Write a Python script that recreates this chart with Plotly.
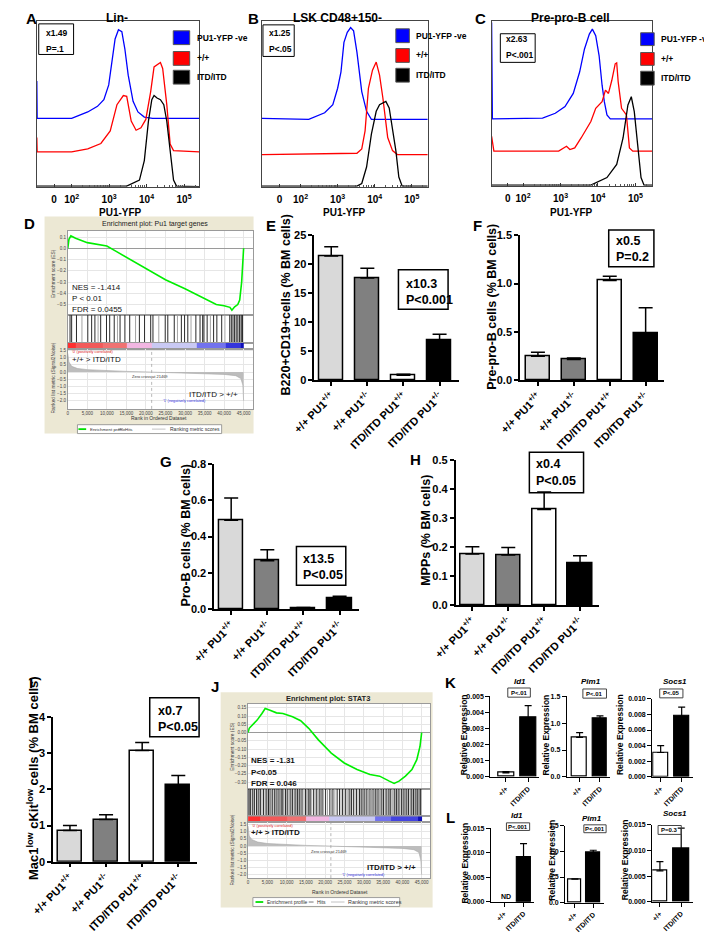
import math
import plotly.graph_objects as go

W, H = 712, 940
OFF = 8  # the page body keeps its default 8px margin
FONT = "Liberation Sans, Arial, sans-serif"

# ---------------- data ----------------
# A-C  PU1-YFP flow histograms (x = log10 decade position, y = stacked relative count)
a_blue_x = [1.07, 1.08, 2.0, 2.43, 2.69, 2.86, 2.99, 3.08, 3.16, 3.25, 3.34, 3.42, 3.51, 3.64, 3.77, 3.94, 4.16, 5.41]
a_blue_y = [63.8, 41.2, 41.2, 45.1, 48.5, 52.5, 61.4, 75.2, 89.1, 94.7, 93.5, 83.2, 67.3, 51.5, 45.1, 42.0, 41.2, 41.2]
a_red_x = [1.07, 1.08, 2.0, 2.43, 2.78, 3.03, 3.21, 3.38, 3.47, 3.59, 3.72, 3.85, 3.98, 4.11, 4.2, 4.28, 4.37, 4.43, 4.54, 4.63, 4.72, 5.41]
a_red_y = [29.7, 21.0, 21.0, 22.8, 26.1, 33.7, 49.5, 55.0, 54.5, 39.6, 34.1, 35.6, 40.6, 57.4, 72.3, 73.3, 74.9, 71.3, 49.5, 25.7, 21.8, 21.0]
a_blk_x = [1.07, 3.47, 3.81, 3.94, 4.05, 4.14, 4.2, 4.28, 4.37, 4.46, 4.54, 4.63, 4.72, 4.8, 5.41]
a_blk_y = [0.4, 0.4, 4.0, 15.8, 39.6, 52.5, 55.0, 53.5, 52.5, 49.5, 39.6, 19.8, 4.0, 0.4, 0.0]

b_blue_x = [0.96, 2.22, 2.65, 2.87, 3.0, 3.09, 3.17, 3.26, 3.35, 3.43, 3.52, 3.65, 3.78, 3.91, 5.43]
b_blue_y = [41.2, 40.6, 44.6, 49.5, 59.4, 69.3, 87.1, 93.1, 96.0, 94.0, 81.2, 57.4, 45.5, 40.6, 40.6]
b_red_x = [0.96, 3.52, 3.65, 3.74, 3.83, 3.94, 4.04, 4.13, 4.22, 4.35, 4.48, 4.61, 5.43]
b_red_y = [19.4, 20.2, 22.8, 33.7, 59.4, 70.3, 75.2, 67.3, 53.5, 29.7, 21.8, 19.4, 19.4]
b_blk_x = [0.96, 3.52, 3.65, 3.78, 3.91, 4.04, 4.13, 4.22, 4.3, 4.39, 4.48, 4.57, 4.65, 4.74, 5.43]
b_blk_y = [0.4, 0.4, 2.0, 11.9, 31.7, 45.5, 49.5, 50.5, 51.5, 47.5, 35.6, 21.8, 5.9, 0.4, 0.4]

c_blue_x = [1.16, 1.18, 2.52, 2.86, 3.12, 3.34, 3.51, 3.64, 3.77, 3.85, 3.94, 4.03, 4.11, 4.17, 4.24, 4.33, 5.45]
c_blue_y = [99, 40.6, 41, 44, 48, 56, 69, 83, 92, 95, 91, 79, 61, 51, 43, 40.6, 40.6]
c_red_x = [1.16, 1.22, 2.95, 3.08, 3.16, 3.25, 3.38, 3.55, 3.68, 3.81, 3.94, 4.03, 4.11, 4.2, 4.28, 4.37, 4.46, 4.5, 4.54, 4.63, 4.76, 4.84, 4.93, 5.45]
c_red_y = [30, 21, 21, 23, 24, 22, 23, 29, 34, 39, 47, 49, 51, 58, 56, 64, 74, 74.6, 63, 47, 43, 23, 21, 21]
c_blk_x = [1.16, 3.81, 4.24, 4.5, 4.67, 4.8, 4.89, 4.97, 5.06, 5.15, 5.23, 5.45]
c_blk_y = [0.4, 0.4, 5, 13, 29, 49, 54, 45, 25, 5, 0.4, 0.4]

hist_legend = ["PU1-YFP -ve", "+/+", "ITD/ITD"]
hist_colors = ["#0000ff", "#ff0000", "#000000"]

# D / J  GSEA enrichment plots
d_es_rank = [0, 300, 800, 2000, 5000, 8000, 10000, 12500, 15000, 20000, 25000, 30000, 35000, 38000, 40000, 41500, 42000, 42700, 43500, 44000, 44500, 44800, 45000]
d_es = [0.0, 0.08, 0.11, 0.09, 0.05, 0.035, 0.02, -0.03, -0.08, -0.175, -0.28, -0.36, -0.45, -0.5, -0.51, -0.525, -0.55, -0.52, -0.5, -0.46, -0.3, -0.15, 0.0]
d_hits_black = [580, 990, 2230, 5120, 6110, 6940, 8420, 9910, 10730, 11890, 13380, 14620, 15850, 18330, 19650, 21220, 21800, 24940, 25600, 27250, 29070, 29890, 30720, 32780, 33850, 34520, 34850, 35670, 37320, 38150, 39390, 41450, 41860, 42280, 42690, 43100, 43520, 43930, 44340, 44590, 44750]
d_hits_gray = [3630, 7760, 12720, 17340, 23290, 28070, 31540, 36500, 40210]
d_cb_edges = [0, 2000, 9000, 15000, 21500, 33000, 40500, 44300, 45000]
d_cb_levels = [1.0, 0.9, 0.82, 0.62, 0.42, 0.25, 0.12, 0.0]
d_met_rank = [0, 300, 1000, 2500, 5000, 10000, 15000, 21469, 28000, 35000, 40000, 43000, 44300, 44800, 45000]
d_met = [1.3, 0.7, 0.4, 0.25, 0.17, 0.1, 0.05, 0.0, -0.05, -0.1, -0.16, -0.25, -0.45, -0.9, -2.0]

j_es_rank = [0, 300, 677, 2350, 3600, 4440, 5690, 7370, 9030, 11540, 13640, 15720, 18230, 21570, 24930, 28260, 31600, 34110, 36620, 37870, 39130, 40800, 42480, 43740, 44570, 45000]
j_es = [0.0, 0.026, 0.036, 0.076, 0.116, 0.146, 0.136, 0.12, 0.116, 0.096, 0.072, 0.026, -0.044, -0.124, -0.184, -0.224, -0.254, -0.264, -0.294, -0.308, -0.294, -0.264, -0.224, -0.164, -0.084, 0.0]
j_hits_black = [200, 600, 1100, 1700, 2200, 2800, 3200, 4000, 4700, 5300, 5700, 6400, 6900, 7500, 8000, 8600, 9000, 9700, 10300, 10900, 11500, 12200, 12800, 13400, 14000, 14900, 15600, 16100, 17000, 17800, 18600, 19200, 20100, 21200, 22000, 23100, 23700, 24500, 25300, 26200, 26800, 27300, 28100, 28900, 29500, 30100, 30800, 31600, 32400, 33100, 33700, 34500, 35100, 35800, 36500, 37000, 37900, 38500, 39100, 39800, 40400, 41000, 41600, 42300, 42900, 43500, 44000, 44600, 44800]
j_hits_gray = [400, 1400, 2500, 3600, 4400, 5000, 6100, 7200, 8300, 9300, 10000, 11200, 11900, 12500, 13100, 13700, 14500, 15200, 15900, 16500, 17400, 18200, 18900, 19600, 20600, 21600, 22500, 24100, 24900, 25700, 26500, 27700, 28500, 29200, 29800, 30500, 31200, 32000, 32800, 33400, 34100, 34800, 35500, 36200, 36800, 37500, 38200, 38800, 39400, 40100, 40700, 41300, 42000, 42600, 43200, 43800, 44300]
j_cb_edges = [0, 3000, 10000, 15000, 21000, 33000, 37000, 44000, 45000]
j_cb_levels = [1.0, 0.9, 0.82, 0.62, 0.42, 0.25, 0.15, 0.0]
j_met_rank = [0, 300, 1000, 2500, 5000, 10000, 15000, 21469, 28000, 35000, 40000, 43000, 44300, 44800, 45000]
j_met = [1.4, 0.7, 0.45, 0.28, 0.18, 0.1, 0.05, 0.0, -0.05, -0.1, -0.16, -0.25, -0.45, -1.0, -2.0]
zero_cross = 21469
rank_ticks = [0, 5000, 10000, 15000, 20000, 25000, 30000, 35000, 40000, 45000]

# E-I  bar charts (mean, SEM)
genotypes = ["+/+ PU1<sup>+/+</sup>", "+/+ PU1<sup>+/-</sup>",
             "ITD/ITD PU1<sup>+/+</sup>", "ITD/ITD PU1<sup>+/-</sup>"]
geno_colors = ["#d9d9d9", "#808080", "#ffffff", "#000000"]
e_vals = [21.4, 17.6, 0.8, 6.8]
e_sem = [1.6, 1.7, 0.17, 1.1]
f_vals = [0.248, 0.214, 1.03, 0.49]
f_sem = [0.042, 0.016, 0.045, 0.26]
g_vals = [0.49, 0.267, 0.007, 0.062]
g_sem = [0.123, 0.06, 0.002, 0.008]
h_vals = [0.176, 0.173, 0.33, 0.145]
h_sem = [0.025, 0.026, 0.06, 0.025]
i_vals = [0.864, 1.164, 3.07, 2.12]
i_sem = [0.136, 0.136, 0.22, 0.26]

# K / L  qPCR
qpcr_groups = ["+/+", "ITD/ITD"]
qpcr_colors = ["#ffffff", "#000000"]
k_id1 = [0.00025, 0.00369]
k_id1_sem = [0.00008, 0.00074]
k_pim1 = [0.738, 1.088]
k_pim1_sem = [0.086, 0.049]
k_socs1 = [0.00312, 0.00776]
k_socs1_sem = [0.00088, 0.00118]
l_id1 = [None, 0.0091]
l_id1_sem = [0, 0.00275]
l_pim1 = [0.46, 0.97]
l_pim1_sem = [0.004, 0.05]
l_socs1 = [0.006, 0.01034]
l_socs1_sem = [0.0018, 0.00396]

# ---------------- helpers ----------------
fig = go.Figure()
layout = {}
shapes = []
annotations = []
count = [0]


def PX(x):
    return (x - OFF) / W


def PY(y):
    return 1 - (y - OFF) / H


def new_axes(xd, yd, xa, ya):
    count[0] += 1
    s = "" if count[0] == 1 else str(count[0])
    layout["xaxis" + s] = dict(domain=[PX(xd[0]), PX(xd[1])], anchor="y" + s, **xa)
    layout["yaxis" + s] = dict(domain=[PY(yd[1]), PY(yd[0])], anchor="x" + s, **ya)
    return "x" + s, "y" + s


def ann(x, y, text, size, bold=False, color="black", xanchor="center", angle=0,
        italic=False, **kw):
    annotations.append(dict(
        x=PX(x), y=PY(y), xref="paper", yref="paper", text=text, showarrow=False,
        xanchor=xanchor, yanchor="middle", textangle=angle,
        font=dict(family=FONT, size=size, color=color,
                  weight="bold" if bold else "normal",
                  style="italic" if italic else "normal"), **kw))


def rect(x0, y0, x1, y1, line="black", fill="rgba(0,0,0,0)", lw=1, layer="above"):
    shapes.append(dict(type="rect", xref="paper", yref="paper", x0=PX(x0), x1=PX(x1),
                       y0=PY(y1), y1=PY(y0), line=dict(color=line, width=lw),
                       fillcolor=fill, layer=layer))


def hline(x0, x1, y, color, lw):
    shapes.append(dict(type="line", xref="paper", yref="paper", x0=PX(x0), x1=PX(x1),
                       y0=PY(y), y1=PY(y), line=dict(color=color, width=lw)))


def letter(x, y, t):
    ann(x, y, t, 15, bold=True)


# ---------------- A-C histograms ----------------
minor_vals = [d + math.log10(k) for d in range(2, 6) for k in range(2, 10)]


def hist_panel(xd, yd, rng, zero_pos, curves, title, title_x, xt_x, leg, inset):
    xa, ya = new_axes(
        xd, yd,
        dict(range=rng, tickvals=[zero_pos, 2, 3, 4, 5],
             ticktext=["0", "10<sup>2</sup>", "10<sup>3</sup>", "10<sup>4</sup>", "10<sup>5</sup>"],
             ticks="inside", ticklen=3, tickcolor="#333", showline=True, mirror=True,
             linecolor="#444", linewidth=1.2, showgrid=False, zeroline=False,
             ticklabelstandoff=3,
             tickfont=dict(family=FONT, size=10, weight="bold"),
             minor=dict(tickvals=minor_vals, ticks="inside", ticklen=2, tickcolor="#555")),
        dict(range=[0, 100], showline=True, mirror=True, linecolor="#444", linewidth=1.2,
             showticklabels=False, showgrid=False, zeroline=False, ticks=""))
    for (cx, cy), col in zip(curves, hist_colors):
        fig.add_trace(go.Scatter(x=cx, y=cy, mode="lines", line=dict(color=col, width=1.3),
                                 xaxis=xa, yaxis=ya, hoverinfo="skip"))
    ann(title_x, 12, title, 12, bold=True)
    ann(xt_x, 209, "PU1-YFP", 10, bold=True)
    lx0, lx1, lys = leg
    for name, col, (ly0, ly1) in zip(hist_legend, hist_colors, lys):
        rect(lx0, ly0, lx1, ly1, line="#555", fill=col, lw=1)
        ann(lx1 + 5, (ly0 + ly1) / 2, name, 8.5, bold=True, xanchor="left")
    (bx0, by0, bx1, by1), tx, lines = inset
    rect(bx0, by0, bx1, by1, line="black", lw=1)
    for (txt, ty) in lines:
        ann(tx, ty, txt, 8.5, bold=True, xanchor="left")


hist_panel((14, 182), (15, 183), [1.07, 5.41], 1.53,
           [(a_blue_x, a_blue_y), (a_red_x, a_red_y), (a_blk_x, a_blk_y)],
           "Lin-", 97, 100,
           (155, 172, [(25, 39), (46, 60), (65, 79)]),
           ((16, 18, 52, 49), 21.5, [("x1.49", 27.5), ("P=.1", 43)]))
hist_panel((246.7, 418), (15, 183), [0.96, 5.43], 1.43,
           [(b_blue_x, b_blue_y), (b_red_x, b_red_y), (b_blk_x, b_blk_y)],
           "LSK CD48+150-", 325, 332,
           (385, 399, [(23, 37), (43, 57), (63, 77)]),
           ((247.7, 19, 280, 51), 251.5, [("x1.25", 27.5), ("P&lt;.05", 43)]))
hist_panel((484, 650), (15, 182), [1.16, 5.45], 1.59,
           [(c_blue_x, c_blue_y), (c_red_x, c_red_y), (c_blk_x, c_blk_y)],
           "Pre-pro-B cell", 565, 567,
           (638, 652, [(27, 40), (47, 60), (66, 80)]),
           ((493, 28, 529, 57), 496.5, [("x2.63", 33.5), ("P&lt;.001", 50)]))
letter(9, 13, "A")
letter(238, 13, "B")
letter(472, 13, "C")

# ---------------- D / J GSEA ----------------
cb_scale = [[0, "#1010b8"], [0.12, "#3535dc"], [0.25, "#7272ee"], [0.42, "#c9c9f3"],
            [0.62, "#f2b6e2"], [0.82, "#f07272"], [0.9, "#f25a5a"], [1.0, "#ff3030"]]
small = dict(family=FONT, size=4.5, color="#444")


def vlines(ranks):
    xs, ys = [], []
    for r in ranks:
        xs += [r, r, None]
        ys += [0, 1, None]
    return xs, ys


def gsea(xd, ys, xmax, es_rank, es, es_range, es_ticks, es_fmt, hk, hg,
         cb_edges, cb_levels, met_rank, met, met_range):
    base = dict(range=[0, xmax], showline=True, mirror=True, linecolor="#9a9a9a",
                linewidth=0.8, zeroline=False, ticks="", showticklabels=False)
    grid = dict(showgrid=True, gridcolor="#e6e6e6", gridwidth=0.6)
    # enrichment score
    xa, ya = new_axes(xd, (ys[0], ys[1]), dict(base, tickvals=rank_ticks, **grid),
                      dict(range=es_range, tickvals=es_ticks, tickformat=es_fmt, tickfont=small,
                           showline=True, mirror=True, linecolor="#9a9a9a", linewidth=0.8,
                           ticks="", zeroline=True, zerolinecolor="#9a9a9a", zerolinewidth=0.8,
                           **grid))
    fig.add_trace(go.Scatter(x=es_rank, y=es, mode="lines", line=dict(color="#00ee00", width=1.6),
                             xaxis=xa, yaxis=ya, hoverinfo="skip"))
    # hits
    xa, ya = new_axes(xd, (ys[1], ys[2]), dict(base, showgrid=False),
                      dict(range=[0, 1], showline=True, mirror=True, linecolor="#9a9a9a",
                           linewidth=0.8, showticklabels=False, showgrid=False, zeroline=False))
    gx, gy = vlines(hg)
    fig.add_trace(go.Scatter(x=gx, y=gy, mode="lines", line=dict(color="#9a9a9a", width=0.9),
                             xaxis=xa, yaxis=ya, hoverinfo="skip"))
    bx, by = vlines(hk)
    fig.add_trace(go.Scatter(x=bx, y=by, mode="lines", line=dict(color="#111", width=0.9),
                             xaxis=xa, yaxis=ya, hoverinfo="skip"))
    # colour bar
    xa, ya = new_axes(xd, (ys[2], ys[3]), dict(base, showgrid=False),
                      dict(range=[0, 1], showline=True, mirror=True, linecolor="#9a9a9a",
                           linewidth=0.8, showticklabels=False, showgrid=False, zeroline=False))
    fig.add_trace(go.Heatmap(x=cb_edges, y=[0, 1], z=[cb_levels], colorscale=cb_scale,
                             zmin=0, zmax=1, showscale=False, xaxis=xa, yaxis=ya,
                             hoverinfo="skip"))
    # ranked metric
    xa, ya = new_axes(xd, (ys[3], ys[4]),
                      dict(base, showticklabels=True, tickvals=rank_ticks, tickformat=",d",
                           tickfont=small, ticklabelstandoff=0, **grid),
                      dict(range=met_range, tickvals=[1.5, 1.0, 0.5, 0.0, -0.5, -1.0, -1.5, -2.0],
                           tickformat=".1f", tickfont=small, showline=True, mirror=True,
                           linecolor="#9a9a9a", linewidth=0.8, ticks="", zeroline=False, **grid))
    fig.add_trace(go.Scatter(x=met_rank, y=met, mode="lines", fill="tozeroy",
                             fillcolor="#bdbdbd", line=dict(color="#a8a8a8", width=0.6),
                             xaxis=xa, yaxis=ya, hoverinfo="skip"))
    shapes.append(dict(type="line", xref=xa, yref=ya + " domain", x0=zero_cross, x1=zero_cross,
                       y0=0, y1=1, line=dict(color="#999", width=0.7, dash="dot")))


def gsea_legend(box, green, prof_x, dash, hits_x, gray, rank_x, y, s1, s2):
    rect(box[0], box[1], box[2], box[3], line="#888", fill="#ffffff", lw=0.8)
    hline(green[0], green[1], y, "#00e000", 1.8)
    ann(prof_x, y, "Enrichment profile", s1, color="#333", xanchor="left")
    hline(dash[0], dash[1], y, "#666", 0.9)
    ann(hits_x, y, "Hits", s1, color="#333", xanchor="left")
    hline(gray[0], gray[1], y, "#d4d4d4", 1.4)
    ann(rank_x, y, "Ranking metric scores", s2, color="#333", xanchor="left")


# D
rect(22, 213, 238, 433, line="#e7e3cc", fill="#ece8d4", lw=0, layer="below")
rect(45, 227, 237.5, 408.5, line="#ffffff", fill="#ffffff", lw=0, layer="below")
gsea((46, 237), [228, 313, 341, 347, 408], 47300, d_es_rank, d_es, [-0.594, 0.152],
     [0.1, 0.0, -0.1, -0.2, -0.3, -0.4, -0.5], ".1f", d_hits_black, d_hits_gray,
     d_cb_edges, d_cb_levels, d_met_rank, d_met, [-2.56, 1.63])
ann(136, 221, "Enrichment plot: Pu1 target genes", 7, color="#222")
ann(31, 271, "Enrichment score (ES)", 4.8, color="#444", angle=-90)
ann(31, 377, "Ranked list metric (Signal2Noise)", 4.8, color="#444", angle=-90)
ann(48, 285, "NES = -1.414", 8, xanchor="left", color="#111")
ann(48, 296, "P &lt; 0.01", 8, xanchor="left", color="#111")
ann(48, 307, "FDR = 0.0455", 8, xanchor="left", color="#111")
ann(48, 350.5, "'0' (positively correlated)", 3.8, color="#e02020", xanchor="left")
ann(48, 357.5, "+/+ &gt; ITD/ITD", 8, xanchor="left", color="#111")
ann(131, 375.5, "Zero cross at 21469", 4, color="#333")
ann(224, 393, "ITD/ITD &gt; +/+", 8, xanchor="right", color="#111")
ann(167, 400.5, "'1' (negatively correlated)", 3.8, color="#3030e0")
ann(140, 417.5, "Rank in Ordered Dataset", 5, color="#333")
gsea_legend((56, 424, 205, 433), (57, 65), 66.5, (98, 102), 103.5, (133, 147), 150, 428.5,
            4.4, 5.0)
letter(6, 220, "D")

# J
rect(204, 695, 423, 913, line="#e7e3cc", fill="#ece8d4", lw=0, layer="below")
rect(231.5, 706, 421, 883.5, line="#ffffff", fill="#ffffff", lw=0, layer="below")
gsea((232.3, 420.7), [706.7, 792.7, 820.7, 826.7, 883.3], 47260, j_es_rank, j_es,
     [-0.34, 0.175], [0.15, 0.10, 0.05, 0.0, -0.05, -0.10, -0.15, -0.20, -0.25, -0.30], ".2f",
     j_hits_black, j_hits_gray, j_cb_edges, j_cb_levels, j_met_rank, j_met, [-2.23, 1.66])
ann(315, 701, "Enrichment plot: STAT3", 7.5, bold=True, color="#222")
ann(216, 750, "Enrichment score (ES)", 4.8, color="#444", angle=-90)
ann(216, 855, "Ranked list metric (Signal2Noise)", 4.8, color="#444", angle=-90)
ann(233, 764, "NES = -1.31", 8, bold=True, xanchor="left", color="#111")
ann(233, 776, "P&lt;0.05", 8, bold=True, xanchor="left", color="#111")
ann(233, 787, "FDR = 0.046", 8, bold=True, xanchor="left", color="#111")
ann(234, 830, "'0' (positively correlated)", 3.8, color="#e02020", xanchor="left")
ann(233, 837, "+/+ &gt; ITD/ITD", 8, bold=True, xanchor="left", color="#111")
ann(316, 856, "Zero cross at 21469", 4, color="#333")
ann(408, 872.5, "ITD/ITD &gt; +/+", 8, bold=True, xanchor="right", color="#111")
ann(352, 880, "'1' (negatively correlated)", 3.8, color="#3030e0")
ann(327, 897, "Rank in Ordered Dataset", 5, color="#333")
gsea_legend((237.3, 903, 389, 912), (240, 248), 249.5, (295, 300), 301.5, (318, 332), 334,
            907.5, 5.0, 5.4)
letter(198, 689, "J")


# ---------------- bar charts ----------------
def bar_panel(xd, yd, cats, vals, sem, colors, yrange, dtick, fmt, xrange, tsize, width,
              lw=1.5, cap=7):
    xa, ya = new_axes(
        xd, yd,
        dict(type="category", categoryorder="array", categoryarray=cats, range=xrange,
             showline=True, linecolor="black", linewidth=lw, ticks="outside", ticklen=4,
             tickwidth=lw, tickcolor="black", tickangle=-45, showgrid=False, zeroline=False,
             tickfont=dict(family=FONT, size=tsize, weight="bold", color="black")),
        dict(range=yrange, tick0=0, dtick=dtick, tickformat=fmt, showline=True,
             linecolor="black", linewidth=lw, ticks="outside", ticklen=4, tickwidth=lw,
             tickcolor="black", showgrid=False, zeroline=False,
             tickfont=dict(family=FONT, size=tsize, weight="bold", color="black")))
    fig.add_trace(go.Bar(x=cats, y=vals, width=width,
                         marker=dict(color=colors, line=dict(color="black", width=lw)),
                         error_y=dict(type="data", array=sem, arrayminus=[0] * len(sem),
                                      symmetric=False, color="black", thickness=lw, width=cap),
                         xaxis=xa, yaxis=ya, hoverinfo="skip"))


def stat_box(x0, y0, x1, y1, tx, lines, size=12.5):
    rect(x0, y0, x1, y1, line="black", lw=1.5)
    for txt, ty in lines:
        ann(tx, ty, txt, size, bold=True, xanchor="left")


bar_panel((300.7, 450), (232, 378.7), genotypes, e_vals, e_sem, geno_colors, [0, 25], 5, "d",
          [-0.47, 3.53], 11, 0.67)
ann(271.7, 303, "B220+CD19+cells (% BM cells)", 12.5, bold=True, angle=-90)
stat_box(387.7, 267, 439, 307, 393, [("x10.3", 281), ("P&lt;0.001", 297.5)])
letter(256, 222, "E")

bar_panel((513.3, 661.7), (232, 379), genotypes, f_vals, f_sem, geno_colors, [0, 1.5], 0.5,
          ".1f", [-0.5, 3.5], 11, 0.67)
ann(485, 305, "Pre-pro-B cells (% BM cells)", 12.5, bold=True, angle=-90)
stat_box(605, 226.7, 651.7, 264, 610.5, [("x0.5", 238), ("P=0.2", 254)])
letter(469, 222, "F")

bar_panel((197.3, 346.7), (464, 610.7), genotypes, g_vals, g_sem, geno_colors, [0, 0.8], 0.2,
          ".1f", [-0.47, 3.53], 11, 0.67)
ann(168.3, 536, "Pro-B cells (% BM cells)", 12.5, bold=True, angle=-90)
stat_box(282.3, 547.3, 333.3, 586.7, 287.3, [("x13.5", 560), ("P&lt;0.05", 576.7)])
letter(147, 461, "G")

bar_panel((446.7, 595), (460, 606.7), genotypes, h_vals, h_sem, geno_colors, [0, 0.5], 0.1,
          ".1f", [-0.47, 3.53], 11, 0.67)
ann(416.7, 531, "MPPs (% BM cells)", 12.5, bold=True, angle=-90)
stat_box(523, 452, 579, 493, 528, [("x0.4", 464), ("P&lt;0.05", 481)])
letter(405, 459, "H")

bar_panel((30.7, 180), (720, 866.7), genotypes, i_vals, i_sem, geno_colors, [0, 4], 1, "d",
          [-0.47, 3.53], 11, 0.67)
ann(10, 782, "Mac1<sup>low</sup> cKit<sup>low</sup> cells (% BM cells)", 13, bold=True, angle=-90)
stat_box(130.7, 700.7, 181.7, 740, 136.7, [("x0.7", 714), ("P&lt;0.05", 730.7)])
letter(8, 685, "I")


# ---------------- K / L qPCR ----------------
def qpcr(xd, yd, vals, sem, yrange, dtick, fmt, xrange, title, title_xy, ptxt, pbox, ytx):
    bar_panel(xd, yd, qpcr_groups, vals, sem, qpcr_colors, yrange, dtick, fmt, xrange, 7,
              0.72, lw=1.2, cap=3.5)
    ann(title_xy[0], title_xy[1], title, 8, bold=True, italic=True)
    x0, y0, x1, y1 = pbox
    rect(x0, y0, x1, y1, line="#444", lw=1)
    ann((x0 + x1) / 2, (y0 + y1) / 2, ptxt, 6, bold=True)
    ann(ytx[0], ytx[1], "Relative Expression", 8.5, bold=True, angle=-90)


qpcr((482.7, 533), (699.3, 780.7), k_id1, k_id1_sem, [0, 0.005], 0.001, ".3f", [-0.7, 1.49],
     "Id1", (513, 684.5), "P&lt;.01", (500.7, 690.7, 524, 700), (455, 738))
qpcr((561.7, 606.7), (699.3, 780.7), k_pim1, k_pim1_sem, [0, 1.5], 0.5, ".1f", [-0.63, 1.51],
     "Pim1", (586.7, 684.5), "P&lt;.01", (578.3, 691.7, 602.7, 701), (540, 738))
qpcr((650, 691.7), (701.7, 780.7), k_socs1, k_socs1_sem, [0, 0.010], 0.002, ".3f",
     [-0.4, 1.52], "Socs1", (673, 684.5), "P&lt;.05", (657.7, 691.7, 681.7, 700.7), (616, 738))
letter(441, 685, "K")

qpcr((483.3, 528), (832.7, 907.3), l_id1, l_id1_sem, [0, 0.015], 0.005, ".3f", [-0.68, 1.55],
     "Id1", (510, 820), "P&lt;.001", (499.3, 827.3, 523.3, 835), (456, 868))
ann(499.3, 902, "ND", 7, bold=True)
qpcr((560, 600), (830, 908.3), l_pim1, l_pim1_sem, [0, 1.5], 0.5, ".1f", [-0.53, 1.58],
     "Pim1", (588, 823), "P&lt;.001", (579.3, 829.3, 602.3, 837.3), (546, 865))
qpcr((650, 692), (829, 907.3), l_socs1, l_socs1_sem, [0, 0.015], 0.005, ".3f", [-0.36, 1.55],
     "Socs1", (674, 818), "P=0.3", (656, 830, 680, 839), (622, 865))
letter(441, 822, "L")

fig.update_layout(
    width=W, height=H, margin=dict(l=0, r=0, t=0, b=0),
    paper_bgcolor="white", plot_bgcolor="rgba(0,0,0,0)", showlegend=False,
    font=dict(family=FONT, color="black"),
    shapes=shapes, annotations=annotations, bargap=0, **layout)

fig.write_html("out.html")
